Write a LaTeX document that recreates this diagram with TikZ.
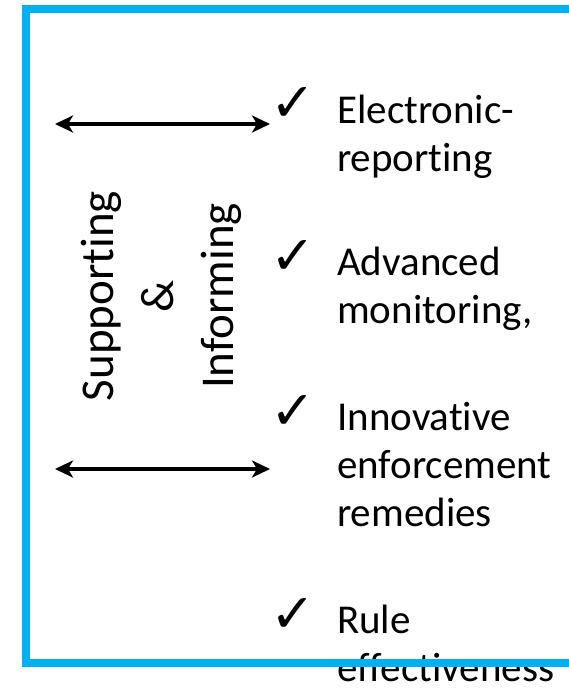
\documentclass[tikz,border=0pt]{standalone}
\usepackage{fontspec}
\setmainfont[Ligatures=NoCommon]{Carlito}
\newfontfamily\symfont{DejaVu Sans}
\usetikzlibrary{arrows.meta,positioning}
\definecolor{frameblue}{RGB}{0,176,240}

\begin{document}
\begin{tikzpicture}[
    x=1pt,y=-1pt,
    item/.style={anchor=base west,align=left,inner sep=0pt,font=\fontsize{41}{48}\selectfont},
    tick/.style={inner sep=0pt,font=\symfont\fontsize{54}{54}\selectfont},
    side/.style={rotate=90,anchor=base,inner sep=0pt,font=\fontsize{47}{60}\selectfont},
    link/.style={{Stealth[length=18pt,width=17pt,inset=5pt]}-{Stealth[length=18pt,width=17pt,inset=5pt]},line width=4pt}
]
    \useasboundingbox (0,0) rectangle (569,689);
    \clip (0,0) rectangle (569,689);

    % side label
    \node[side] (sup) at (113,296) {Supporting};
    \node[side] (amp) at (173,296) {\&};
    \node[side] (inf) at (233,296) {Informing};

    % arrows
    \coordinate (lt) at (55,124);
    \coordinate (rt) at (270,124);
    \coordinate (lb) at (55,469);
    \coordinate (rb) at (270,469);
    \draw[link] (lt) -- (rt);
    \draw[link] (lb) -- (rb);

    % list (base = last line)
    \node[tick] (c1) at (293,104) {✓};
    \node[item] (ereport) at (337,171) {Electronic-\\reporting};
    \node[tick] (c2) at (293,257) {✓};
    \node[item] (monitor) at (337,323) {Advanced\\monitoring,};
    \node[tick] (c3) at (293,412) {✓};
    \node[item] (enforce) at (337,526) {Innovative\\enforcement\\remedies};
    \node[tick] (c4) at (293,615) {✓};
    \node[item] (rule) at (337,681) {Rule\\effectiveness};

    % frame
    \draw[frameblue,line width=8pt] (25.5,9) rectangle (600,663);
\end{tikzpicture}
\end{document}
